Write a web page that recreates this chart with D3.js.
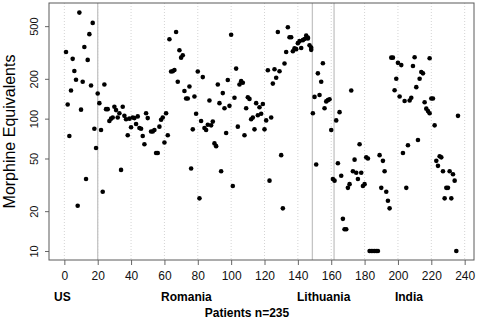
<!DOCTYPE html>
<html>
<head>
<meta charset="utf-8">
<script src="https://cdn.jsdelivr.net/npm/d3@7"></script>
<style>
  body { margin: 0; background: #fff; }
  text { font-family: "Liberation Sans", Arial, sans-serif; }
</style>
</head>
<body>
<svg id="chart" width="478" height="320"></svg>
<script>
// patient number and morphine equivalents
const patient = [
  1, 2, 3, 4, 5, 6, 7, 8, 9, 10, 11, 12, 13, 14, 15, 16, 17, 18, 19, 20,
  21, 22, 23, 24, 25, 26, 27, 28, 29, 30, 31, 32, 33, 34, 35, 36, 37, 38, 39, 40,
  41, 42, 43, 44, 45, 46, 47, 48, 49, 50, 52, 53, 54, 55, 56, 57, 58, 59, 60, 61,
  62, 63, 64, 65, 66, 67, 68, 69, 70, 71, 72, 73, 74, 75, 76, 77, 78, 79, 80, 81,
  82, 83, 84, 85, 86, 87, 88, 89, 90, 91, 92, 93, 94, 95, 96,
  97, 98, 99, 100, 101, 102, 103, 104, 105, 106, 107, 108, 109, 110, 111, 112, 113, 114, 115, 116,
  117, 118, 119, 120, 121, 122, 123, 124, 125, 126, 127, 128, 129, 130, 131, 132, 133, 134, 135, 136,
  137, 138, 139, 140, 141, 142, 143, 144,
  145, 146, 146, 147, 148, 148, 149, 150, 151, 152, 153, 154, 155, 156, 157, 158, 159, 160,
  161, 162, 163, 164, 165, 166, 167, 168, 169, 170, 171, 172, 173, 174, 175, 176, 177, 178, 179, 180,
  181, 182, 183, 184, 185, 186, 187, 188, 189, 190, 191, 192, 193, 194, 195,
  196, 197, 198, 199, 200, 201, 202, 203, 204, 205, 206, 207, 208, 209, 210, 211, 212, 213, 214, 215,
  216, 217, 218, 219, 219, 220, 221, 222, 223, 224, 225, 226, 227, 228, 229, 230, 231, 232, 233, 234,
  235, 236
];
const morphine = [
  319, 128, 74, 163, 283, 229, 197, 22, 633, 117, 190, 348, 35, 278, 435, 178, 529, 84, 60, 155,
  131, 82, 28, 181, 118, 118, 96, 100, 102, 123, 116, 102, 110, 41, 123, 105, 99, 75, 100, 86,
  102, 101, 91, 104, 85, 84, 74, 64, 110, 101, 80, 80, 82, 55, 55, 87, 98, 102, 66, 110,
  75, 398, 227, 228, 233, 452, 190, 329, 289, 301, 162, 142, 142, 175, 42, 83, 147, 109, 227, 25,
  96, 206, 85, 82, 90, 137, 89, 95, 65, 62, 181, 131, 40, 156, 120,
  78, 196, 125, 431, 31, 144, 239, 87, 181, 192, 187, 75, 120, 145, 141, 99, 102, 83, 131, 106,
  122, 109, 129, 83, 97, 232, 34, 102, 184, 236, 204, 452, 228, 53, 21, 261, 319, 491, 412, 412,
  323, 340, 335, 372, 385, 342, 392, 400,
  424, 410, 403, 359, 344, 331, 110, 146, 45, 220, 151, 190, 262, 120, 135, 138, 140, 82,
  35, 34, 97, 46, 112, 37, 17.5, 14.6, 14.6, 30, 32, 163, 40, 49, 39, 35, 64, 39, 31, 32,
  51, 50, 10, 10, 10, 10, 10, 10, 53, 30, 48, 40, 28, 24, 21,
  289, 289, 164, 200, 264, 147, 254, 55, 136, 30, 63, 137, 144, 250, 291, 173, 69, 200, 225, 220,
  133, 119, 114, 110, 286, 142, 142, 89, 48, 44, 52, 51, 40, 25, 30, 30, 40, 25, 38, 34,
  10, 105
];

const xTicks = [0, 20, 40, 60, 80, 100, 120, 140, 160, 180, 200, 220, 240];
const yTicks = [10, 20, 50, 100, 200, 500];
const countryBreaks = [20, 148.7, 161.7];
const countries = ["US", "Romania", "Lithuania", "India"];
const countryLabelAt = [-6.2, 58, 139.5, 198.2]; // left edge of each label, in patient units
const xTitle = "Patients n=235";
const yTitle = "Morphine Equivalents";

const svg = d3.select("#chart");
const box = { left: 49, right: 474, top: 3, bottom: 260 };

const x = d3.scaleLinear().domain([-9.2, 245.6]).range([box.left, box.right]);
const y = d3.scaleLog().domain([8.55, 748]).range([box.bottom, box.top]);

// light dotted vertical grid
svg.append("g")
  .selectAll("line")
  .data(xTicks)
  .join("line")
  .attr("x1", d => x(d)).attr("x2", d => x(d))
  .attr("y1", box.top).attr("y2", box.bottom)
  .attr("stroke", "#d4d4d4")
  .attr("stroke-width", 1)
  .attr("stroke-dasharray", "1,2");

// country separators
svg.append("g")
  .selectAll("line")
  .data(countryBreaks)
  .join("line")
  .attr("x1", d => x(d)).attr("x2", d => x(d))
  .attr("y1", box.top).attr("y2", box.bottom)
  .attr("stroke", "#c4c4c4")
  .attr("stroke-width", 1.3);

// axes
const xAxis = svg.append("g")
  .attr("transform", `translate(0,${box.bottom})`)
  .call(d3.axisBottom(x).tickValues(xTicks).tickSize(5).tickPadding(6).tickFormat(d3.format("d")));
xAxis.select(".domain").remove();
xAxis.selectAll("line").attr("stroke", "#666");
xAxis.selectAll("text").attr("font-size", 12).attr("fill", "#111")
  .attr("font-family", "'Liberation Sans', Arial, sans-serif");

const yAxis = svg.append("g")
  .attr("transform", `translate(${box.left},0)`)
  .call(d3.axisLeft(y).tickValues(yTicks).tickSize(4).tickFormat(d3.format("d")));
yAxis.select(".domain").remove();
yAxis.selectAll("line").attr("stroke", "#666");
yAxis.selectAll("text")
  .attr("font-size", 11).attr("fill", "#111")
  .attr("font-family", "'Liberation Sans', Arial, sans-serif")
  .attr("x", null).attr("dy", null)
  .attr("text-anchor", "middle")
  .attr("transform", "translate(-11.5,0) rotate(-90)");

// frame
svg.append("rect")
  .attr("x", box.left).attr("y", box.top)
  .attr("width", box.right - box.left).attr("height", box.bottom - box.top)
  .attr("fill", "none").attr("stroke", "#5a5a5a").attr("stroke-width", 1);

// points
svg.append("g")
  .selectAll("circle")
  .data(patient)
  .join("circle")
  .attr("cx", d => x(d))
  .attr("cy", (d, i) => y(morphine[i]))
  .attr("r", 2.3)
  .attr("fill", "#000");

// titles
svg.append("text")
  .attr("transform", `translate(15,${(box.top + box.bottom) / 2}) rotate(-90)`)
  .attr("text-anchor", "middle")
  .attr("font-size", 16)
  .attr("fill", "#000")
  .text(yTitle);

svg.append("g")
  .selectAll("text")
  .data(countries)
  .join("text")
  .attr("x", (d, i) => x(countryLabelAt[i]))
  .attr("y", 300.5)
  .attr("font-size", 12)
  .attr("font-weight", "bold")
  .attr("fill", "#000")
  .text(d => d);

svg.append("text")
  .attr("x", 247)
  .attr("y", 316.5)
  .attr("text-anchor", "middle")
  .attr("font-size", 12)
  .attr("font-weight", "bold")
  .attr("fill", "#000")
  .text(xTitle);
</script>
</body>
</html>
